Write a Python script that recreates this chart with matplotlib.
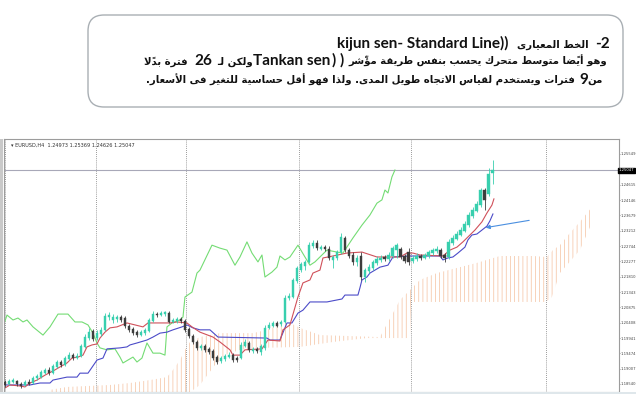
import numpy as np
import matplotlib
matplotlib.use("Agg")
import matplotlib.pyplot as plt
from matplotlib.patches import FancyBboxPatch, Rectangle
from matplotlib.transforms import IdentityTransform, blended_transform_factory

# ---------------- data (EURUSD H4) ----------------
open_ = [1.1860,1.1854,1.1860,1.1863,1.1854,1.1851,1.1860,1.1857,1.1872,1.1875,
         1.1887,1.1897,1.1887,1.1906,1.1921,1.1912,1.1930,1.1942,1.1933,1.1939,
         1.1967,1.1994,1.2015,1.1994,1.2006,1.2019,1.2058,1.2049,1.2052,1.2058,
         1.2055,1.2031,1.2022,1.2012,1.2003,1.2009,1.2015,1.2046,1.2067,1.2064,
         1.2067,1.2070,1.2043,1.2046,1.2052,1.2046,1.2022,1.2000,1.1982,1.1964,
         1.1970,1.1961,1.1954,1.1936,1.1924,1.1930,1.1936,1.1942,1.1933,1.1933,
         1.1970,1.1979,1.1954,1.1961,1.1951,1.1964,1.2025,1.2031,1.2040,1.2037,
         1.2043,1.2116,1.2119,1.2168,1.2201,1.2213,1.2226,1.2274,1.2284,1.2265,
         1.2271,1.2265,1.2232,1.2238,1.2256,1.2299,1.2262,1.2247,1.2226,1.2244,
         1.2180,1.2198,1.2207,1.2223,1.2232,1.2241,1.2235,1.2244,1.2262,1.2265,
         1.2244,1.2256,1.2229,1.2235,1.2244,1.2238,1.2244,1.2253,1.2259,1.2262,
         1.2247,1.2241,1.2284,1.2296,1.2308,1.2320,1.2338,1.2366,1.2381,1.2399,
         1.2445,1.2433,1.24973]
high = [1.1866,1.1869,1.1872,1.1866,1.1860,1.1866,1.1869,1.1878,1.1884,1.1897,
        1.1903,1.1906,1.1915,1.1927,1.1927,1.1939,1.1951,1.1948,1.1948,1.1976,
        1.2006,1.2025,1.2022,1.2019,1.2028,1.2070,1.2073,1.2067,1.2064,1.2064,
        1.2061,1.2037,1.2028,1.2019,1.2019,1.2025,1.2055,1.2076,1.2073,1.2076,
        1.2076,1.2076,1.2055,1.2058,1.2058,1.2052,1.2028,1.2006,1.1988,1.1976,
        1.1976,1.1967,1.1961,1.1942,1.1939,1.1945,1.1951,1.1948,1.1939,1.1982,
        1.1991,1.1985,1.1967,1.1967,1.1976,1.2034,1.2043,1.2046,1.2046,1.2049,
        1.2125,1.2131,1.2177,1.2213,1.2226,1.2232,1.2287,1.2293,1.2293,1.2277,
        1.2277,1.2274,1.2247,1.2262,1.2314,1.2305,1.2268,1.2256,1.2247,1.2256,
        1.2207,1.2220,1.2232,1.2244,1.2247,1.2247,1.2256,1.2274,1.2284,1.2271,
        1.2250,1.2268,1.2247,1.2253,1.2250,1.2253,1.2262,1.2268,1.2274,1.2268,
        1.2253,1.2296,1.2308,1.2320,1.2332,1.2351,1.2378,1.2393,1.2412,1.2451,
        1.2451,1.2512,1.25369]
low = [1.1845,1.1851,1.1857,1.1848,1.1842,1.1848,1.1851,1.1854,1.1866,1.1872,
       1.1884,1.1881,1.1884,1.1903,1.1906,1.1909,1.1927,1.1927,1.1930,1.1936,
       1.1964,1.1988,1.1985,1.1988,1.2000,1.2015,1.2049,1.2040,1.2043,1.2043,
       1.2025,1.2012,1.2003,1.1997,1.2000,1.2003,1.2012,1.2043,1.2058,1.2061,
       1.2061,1.2040,1.2040,1.2040,1.2040,1.2012,1.1994,1.1976,1.1958,1.1958,
       1.1951,1.1945,1.1927,1.1915,1.1918,1.1924,1.1933,1.1921,1.1921,1.1930,
       1.1967,1.1951,1.1948,1.1948,1.1942,1.1958,1.2022,1.2028,1.2028,1.2031,
       1.2040,1.2110,1.2116,1.2162,1.2195,1.2201,1.2223,1.2268,1.2262,1.2262,
       1.2259,1.2232,1.2207,1.2232,1.2250,1.2256,1.2238,1.2216,1.2213,1.2171,
       1.2165,1.2192,1.2201,1.2216,1.2226,1.2229,1.2229,1.2238,1.2238,1.2235,
       1.2223,1.2216,1.2223,1.2229,1.2232,1.2235,1.2238,1.2247,1.2253,1.2238,
       1.2226,1.2235,1.2277,1.2293,1.2305,1.2317,1.2332,1.2360,1.2378,1.2393,
       1.2384,1.2427,1.24626]
close = [1.1851,1.1863,1.1866,1.1854,1.1848,1.1860,1.1854,1.1872,1.1878,1.1890,
         1.1897,1.1887,1.1909,1.1921,1.1912,1.1933,1.1942,1.1933,1.1939,1.1970,
         1.1997,1.2012,1.1991,1.2009,1.2019,1.2061,1.2064,1.2058,1.2058,1.2049,
         1.2031,1.2019,1.2009,1.2003,1.2012,1.2019,1.2049,1.2067,1.2064,1.2070,
         1.2073,1.2043,1.2049,1.2052,1.2046,1.2019,1.2000,1.1982,1.1964,1.1970,
         1.1958,1.1951,1.1933,1.1921,1.1933,1.1939,1.1942,1.1927,1.1927,1.1973,
         1.1982,1.1958,1.1961,1.1954,1.1970,1.2025,1.2034,1.2040,1.2031,1.2043,
         1.2116,1.2122,1.2171,1.2207,1.2220,1.2226,1.2277,1.2284,1.2268,1.2271,
         1.2265,1.2238,1.2241,1.2256,1.2302,1.2262,1.2244,1.2226,1.2238,1.2180,
         1.2201,1.2210,1.2226,1.2235,1.2238,1.2235,1.2247,1.2268,1.2277,1.2241,
         1.2229,1.2226,1.2238,1.2244,1.2238,1.2247,1.2256,1.2262,1.2265,1.2244,
         1.2238,1.2287,1.2299,1.2311,1.2323,1.2342,1.2369,1.2384,1.2402,1.2445,
         1.2415,1.2494,1.25047]

# Ichimoku lines (x = bar index, y = price)
tenkan_x = [-0.75,0,1.25,3.75,5,6.25,8,10,12.5,13.75,15.5,16.75,18.25,19.5,20.5,21.75,23,23.75,25,26.25,
            28,30.5,32.5,34.5,35.75,41.25,43,45.5,46.75,48.75,52,53.75,56.25,57,58.75,60,64.25,65.75,68.75,69.5,
            71.25,73.25,74.5,76.25,77,78.75,79.5,82,85.5,89.25,93,98.75,100.5,102,103.75,109.5,111.25,113,114.5,116.25,
            117.5,119.25,120.5,121.75,122.25]
tenkan_y = [1.1845,1.1842,1.1851,1.1848,1.1845,1.1857,1.1866,1.1881,1.1897,1.1906,1.1918,1.1933,1.1936,1.1942,1.1967,1.1973,1.1976,1.1994,1.2012,1.2025,
            1.2028,1.2040,1.2034,1.2028,1.2040,1.2040,1.2043,1.2040,1.2028,1.2012,1.1997,1.1982,1.1958,1.1942,1.1942,1.1958,1.1961,1.1988,1.1985,1.2019,
            1.2034,1.2119,1.2162,1.2171,1.2192,1.2201,1.2238,1.2244,1.2253,1.2256,1.2241,1.2241,1.2253,1.2253,1.2247,1.2244,1.2262,1.2271,1.2287,1.2308,
            1.2323,1.2348,1.2375,1.2399,1.2418]
kijun_x = [-0.75,6.25,8.75,11.25,12,15.5,18,18.75,20.75,22.5,23,24.5,25.5,28.75,30.5,31.25,33,35.5,37,38.75,
           40.5,42,44.25,45.5,47,48.75,51.25,53.25,65.5,66.25,68.75,70.5,71.75,73.25,74.5,76.25,80.5,83,84.25,85,
           88.25,88.75,89.25,90.5,91.25,92.5,93.75,95.75,97,101.25,108.75,109.5,110.75,112,113.25,115,115.75,116.75,118,119.25,
           120.5,121.25,122]
kijun_y = [1.1851,1.1851,1.1857,1.1857,1.1866,1.1875,1.1875,1.1887,1.1887,1.1918,1.1927,1.1933,1.1961,1.1964,1.1967,1.1973,1.1979,1.1988,1.1997,1.2009,
           1.2012,1.2019,1.2028,1.2034,1.2025,1.2019,1.2019,1.1997,1.1994,1.1988,1.1988,1.2040,1.2040,1.2070,1.2079,1.2104,1.2104,1.2110,1.2113,1.2125,
           1.2125,1.2147,1.2171,1.2180,1.2192,1.2201,1.2210,1.2216,1.2241,1.2244,1.2244,1.2232,1.2238,1.2241,1.2253,1.2271,1.2293,1.2308,1.2311,1.2323,
           1.2335,1.2351,1.2372]
chikou_x = [-0.75,0.5,2,3.25,4.5,5.5,7,9.5,11.25,13.25,15.75,17.5,19.25,20.75,22,23,23.75,25.5,27.5,28.75,
            29.5,30.75,32,33,34.25,35.5,37,38.75,40,40.5,41.75,43.75,44.5,45,46.75,48,48.75,51.75,53.75,55.5,
            57.5,58.75,60.5,61.75,63.25,64.25,65,66.75,68,68.75,70,71.25,73.25,75,76.25,77.5,78.75,80.5,83,84.5,
            87,89.25,91.25,93,94.25,95,95.75,96.75,97.5]
chikou_y = [1.2019,1.2064,1.2049,1.2055,1.2043,1.2049,1.2028,1.2003,1.2028,1.2067,1.2067,1.2043,1.2043,1.2034,1.2009,1.1979,1.1964,1.1958,1.1961,1.1936,
            1.1918,1.1927,1.1936,1.1921,1.1933,1.1979,1.1948,1.1948,1.1942,1.2028,1.2040,1.2049,1.2058,1.2119,1.2134,1.2192,1.2201,1.2277,1.2268,1.2262,
            1.2216,1.2241,1.2287,1.2253,1.2226,1.2247,1.2180,1.2195,1.2210,1.2244,1.2232,1.2241,1.2277,1.2241,1.2216,1.2226,1.2241,1.2262,1.2256,1.2253,
            1.2299,1.2338,1.2369,1.2405,1.2415,1.2445,1.2436,1.2485,1.2506]
kumo_top_x = [11.25,15.5,26.25,31.25,36.25,40.5,42,43.75,45,46.25,48.75,51.25,53.75,62,65.5,69.5,71.25,73.75,78.75,93.75,
              97,98.75,101.25,103.75,108,113.75,118,123.75,132,135.5,137,138.75,141.25,143.75,146.75]
kumo_top_y = [1.1836,1.1845,1.1851,1.1857,1.1866,1.1875,1.1897,1.1927,1.1958,1.1982,1.1997,1.2003,1.2009,1.2009,1.2019,1.2040,1.2040,1.2025,1.2003,1.1997,
              1.2070,1.2110,1.2140,1.2171,1.2192,1.2210,1.2223,1.2244,1.2244,1.2241,1.2262,1.2277,1.2314,1.2348,1.2393]
kumo_bot_x = [11.25,45,48.75,52.5,55,58.75,63.75,73.75,82,90.5,101.25,101.5,135.25,136.75,138.75,143.75,146.75]
kumo_bot_y = [1.1818,1.1818,1.1851,1.1912,1.1942,1.1958,1.1964,1.1967,1.1982,1.1994,1.1994,1.2104,1.2104,1.2119,1.2192,1.2262,1.2345]

day_breaks = [0, 22.75, 45.25, 73.5, 101.5, 135.25]
tick_vals = [1.18540,1.19007,1.19474,1.19941,1.20408,1.20875,1.21343,1.21810,
             1.22277,1.22744,1.23212,1.23679,1.24146,1.24615,1.25549]
tick_lbls = ["1.18540","1.19007","1.19474","1.19941","1.20408","1.20875","1.21343","1.21810",
             "1.22277","1.22744","1.23212","1.23679","1.24146","1.24615","1.25549"]
header = "EURUSD,H4  1.24973 1.25369 1.24626 1.25047"
price_label = "1.25047"
arrow_from = (131.75, 1.2354)
arrow_to = (119.5, 1.2329)

assert len(open_) == len(high) == len(low) == len(close)

# ---------------- Arabic shaping helpers ----------------
_TAB = [(0x621,0xFE80,1),(0x622,0xFE81,2),(0x623,0xFE83,2),(0x624,0xFE85,2),(0x625,0xFE87,2),
        (0x626,0xFE89,4),(0x627,0xFE8D,2),(0x628,0xFE8F,4),(0x629,0xFE93,2),(0x62A,0xFE95,4),
        (0x62B,0xFE99,4),(0x62C,0xFE9D,4),(0x62D,0xFEA1,4),(0x62E,0xFEA5,4),(0x62F,0xFEA9,2),
        (0x630,0xFEAB,2),(0x631,0xFEAD,2),(0x632,0xFEAF,2),(0x633,0xFEB1,4),(0x634,0xFEB5,4),
        (0x635,0xFEB9,4),(0x636,0xFEBD,4),(0x637,0xFEC1,4),(0x638,0xFEC5,4),(0x639,0xFEC9,4),
        (0x63A,0xFECD,4),(0x641,0xFED1,4),(0x642,0xFED5,4),(0x643,0xFED9,4),(0x644,0xFEDD,4),
        (0x645,0xFEE1,4),(0x646,0xFEE5,4),(0x647,0xFEE9,4),(0x648,0xFEED,2),(0x649,0xFEEF,2),
        (0x64A,0xFEF1,4)]
_JOIN = {chr(c): (b, n) for c, b, n in _TAB}
_LAMALEF = {'\u0622': 0xFEF5, '\u0623': 0xFEF7, '\u0625': 0xFEF9, '\u0627': 0xFEFB}


def _jt(ch):
    if ch == '\u0640':
        return 'D'
    if ch in _JOIN:
        return {1: 'U', 2: 'R', 4: 'D'}[_JOIN[ch][1]]
    if '\u064B' <= ch <= '\u0652' or ch == '\u0670':
        return 'T'
    return 'U'


def _shape(s):
    out, i, n, pj = [], 0, len(s), False
    while i < n:
        ch = s[i]
        t = _jt(ch)
        if t == 'T':
            out.append(ch); i += 1; continue
        if t == 'U':
            out.append(ch); pj = False; i += 1; continue
        j = i + 1
        while j < n and _jt(s[j]) == 'T':
            j += 1
        nx = s[j] if j < n else ''
        if ch == '\u0644' and nx in _LAMALEF:
            out.append(chr(_LAMALEF[nx] + (1 if pj else 0)))
            out.extend(s[i + 1:j])
            pj = False
            i = j + 1
            continue
        if ch == '\u0640':
            out.append(ch); pj = True; i += 1; continue
        base, cnt = _JOIN[ch]
        jn = (t == 'D') and nx != '' and _jt(nx) in ('D', 'R')
        form = 3 if (pj and jn) else 1 if pj else 2 if jn else 0
        out.append(chr(base + form))
        pj = jn
        i += 1
    return ''.join(out)


def rtl(s):
    clusters = []
    for ch in _shape(s):
        if _jt(ch) == 'T' and clusters:
            clusters[-1] += ch
        else:
            clusters.append(ch)
    clusters.reverse()
    return ''.join(clusters).translate(str.maketrans('()', ')('))


# each line: visual left-to-right segments (text, kind, gap to the right in px)
line1 = [("kijun sen- Standard Line))", 'la', 8), (rtl("الخط المعيارى"), 'ar', 7), ("-2", 'la', 0)]
line2 = [(rtl("فترة بدلًا"), 'ar', 6), ("26", 'la', 5), (rtl("ولكن لـ"), 'ar', 0),
         ("Tankan sen", 'la', 2), (") )", 'la', 4),
         (rtl("وهو أيضًا متوسط متحرك يحسب بنفس طريقة مؤشّر"), 'ar', 0)]
line3 = [(rtl("فترات ويستخدم لقياس الاتجاه طويل المدى. ولذا فهو أقل حساسية للتغير فى الأسعار."), 'ar', 4),
         ("9", 'la', 0), (rtl("من"), 'ar', 0)]

# ---------------- figure ----------------
W, H = 636, 394
fig = plt.figure(figsize=(W / 100, H / 100), dpi=100)
fig.patch.set_facecolor('white')
plt.rcParams['hatch.linewidth'] = 0.5
renderer = fig.canvas.get_renderer()

box = FancyBboxPatch((88, H - 107), 535, 92, boxstyle="round,pad=0,rounding_size=16",
                     transform=IdentityTransform(), facecolor='white', edgecolor='#a9afb4', lw=1.0)
fig.add_artist(box)

FONTS = {'la': dict(family=['Lato', 'DejaVu Sans'], fontsize=11, fontweight='bold'),
         'ar': dict(family=['DejaVu Sans'], fontsize=7.3, fontweight='bold')}


def place_line(segs, x_right, y_base):
    x = x_right
    for txt, kind, gap in reversed(segs):
        x -= gap
        t = fig.text(x / W, 1 - y_base / H, txt, ha='right', va='baseline',
                     color='#111111', **FONTS[kind])
        x -= t.get_window_extent(renderer).width


place_line(line1, 610, 48)
place_line(line2, 607, 65)
place_line(line3, 603, 84)

# side/bottom strips of the screenshot
fig.add_artist(Rectangle((0, H - 392), 3, 253, transform=IdentityTransform(),
                         facecolor='#c9c9c9', edgecolor='none'))
fig.add_artist(Rectangle((0, 0), W, 2, transform=IdentityTransform(),
                         facecolor='#dfe7eb', edgecolor='none'))

ax = fig.add_axes([4 / W, 2 / H, 614.5 / W, 253 / H])
ax.set_xlim(-0.25, 153.4)
ax.set_ylim(1.18296, 1.26005)
ax.set_facecolor('white')
for sp in ax.spines.values():
    sp.set_color('#9c9c9c')
    sp.set_linewidth(0.8)

# cloud
kx = kumo_top_x + kumo_bot_x[::-1]
ky = kumo_top_y + kumo_bot_y[::-1]
ax.fill(kx, ky, facecolor='none', edgecolor='#f4c09e', hatch='||||', lw=0, zorder=1)

# dotted day separators
ax.vlines(day_breaks, 1.18296, 1.26005, colors='#7a7a7a', linestyles=(0, (1, 1.5)), lw=0.6, zorder=1.5)
# current price line
ax.axhline(close[-1], color='#a8a8b8', lw=0.8, zorder=1.5)

ax.plot(chikou_x, chikou_y, color='#74dc74', lw=0.8, zorder=2)
ax.plot(kijun_x, kijun_y, color='#4b4bc8', lw=0.8, zorder=2.1)
ax.plot(tenkan_x, tenkan_y, color='#d0505a', lw=0.8, zorder=2.2)

o = np.array(open_); h = np.array(high); l = np.array(low); c = np.array(close)
idx = np.arange(len(c))
up = c >= o
BULL, BEAR = '#38cfae', '#3d3d3d'
ax.vlines(idx[up], l[up], h[up], colors=BULL, lw=0.6, zorder=3)
ax.vlines(idx[~up], l[~up], h[~up], colors=BEAR, lw=0.6, zorder=3)
ax.bar(idx[up], c[up] - o[up], bottom=o[up], width=0.72, color=BULL, edgecolor=BULL, lw=0.3, zorder=3.1)
ax.bar(idx[~up], c[~up] - o[~up], bottom=o[~up], width=0.72, color=BEAR, edgecolor=BEAR, lw=0.3, zorder=3.1)

# arrow annotation pointing at the Kijun line
ax.annotate('', xy=arrow_to, xytext=arrow_from,
            arrowprops=dict(arrowstyle='-|>', color='#4a8fe0', lw=0.8, mutation_scale=6), zorder=4)

ax.set_xticks([])
ax.yaxis.tick_right()
ax.set_yticks(tick_vals)
ax.set_yticklabels(tick_lbls, fontsize=2.7, color='#444444')
ax.tick_params(axis='y', length=1.0, width=0.5, pad=0.3, color='#666666')

ax.text(1.0, close[-1], price_label, transform=blended_transform_factory(ax.transAxes, ax.transData),
        fontsize=2.7, color='white', va='center', ha='left',
        bbox=dict(boxstyle='square,pad=0.15', fc='black', ec='black'))
ax.text(0.012, 0.985, "\u25BE " + header, transform=ax.transAxes, fontsize=3.6,
        va='top', ha='left', color='#333333')

fig.savefig('out.png', dpi=100, facecolor='white')
